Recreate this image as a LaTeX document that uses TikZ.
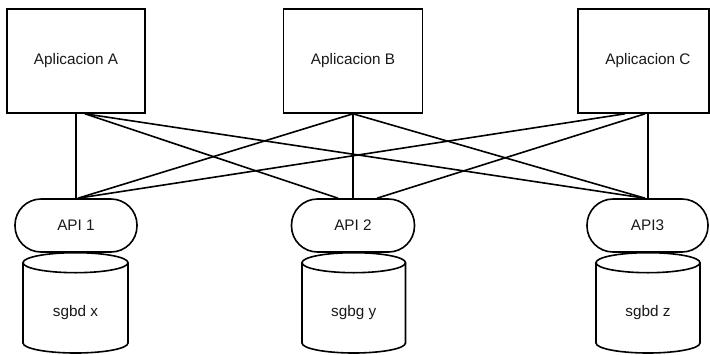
\documentclass[tikz,border=0pt]{standalone}
\usepackage{fontspec}
\setmainfont{Liberation Sans}
\usetikzlibrary{calc}
\begin{document}
\begin{tikzpicture}[x=1pt,y=-1pt,
  every node/.style={font=\fontsize{15.3pt}{18pt}\selectfont, text=black!90},
  appbox/.style={draw, line width=1.6pt, minimum height=104pt, inner sep=0pt},
  apibox/.style={draw, line width=1.6pt, rounded corners=26pt, minimum height=53pt, inner sep=0pt},
  conn/.style={line width=1.6pt},
  cyl/.style={line width=1.6pt}]
\useasboundingbox (0,0) rectangle (710,354);
\fill[white] (0,0) rectangle (710,354);
% applications
\node[appbox, minimum width=138pt] (A) at (76,61) {Aplicacion A};
\node[appbox, minimum width=139pt] (B) at (353,61) {Aplicacion B};
\node[appbox, minimum width=131pt] (C) at (643.5,61) {};
\node at (648,61) {Aplicacion C};
% APIs
\node[apibox, minimum width=122pt] (P1) at (76,225.5) {API 1};
\node[apibox, minimum width=123pt] (P2) at (353,225.5) {API 2};
\node[apibox, minimum width=121pt] (P3) at (647.5,225.5) {API3};
% databases
\draw[cyl] (23,262.7) -- (23,343) arc[start angle=180,end angle=360,x radius=52.5pt,y radius=10pt] -- (128,262.7);
\draw[cyl] (75.5,262.7) ellipse [x radius=52.5pt, y radius=10pt];
\draw[cyl] (302,262.7) -- (302,343) arc[start angle=180,end angle=360,x radius=51.75pt,y radius=10pt] -- (405.5,262.7);
\draw[cyl] (353.75,262.7) ellipse [x radius=51.75pt, y radius=10pt];
\draw[cyl] (596,262.7) -- (596,343) arc[start angle=180,end angle=360,x radius=52pt,y radius=10pt] -- (700,262.7);
\draw[cyl] (648,262.7) ellipse [x radius=52pt, y radius=10pt];
\node (X) at (75.5,313) {sgbd x};
\node (Y) at (353.75,313) {sgbg y};
\node (Z) at (648,313) {sgbd z};
% connectors
\coordinate (As) at ($(A.south)+(9,0)$);
\coordinate (Cs1) at ($(C.south)+(-18.5,0)$);
\coordinate (Cs2) at ($(C.south)+(1.5,0)$);
\coordinate (Cs3) at ($(C.south)+(4.5,0)$);
\coordinate (P1n) at ($(P1.north)+(2,0)$);
\coordinate (P2l) at ($(P2.north)+(-15,0)$);
\coordinate (P2r) at ($(P2.north)+(24,0)$);
\coordinate (P3l) at ($(P3.north)+(-2.5,0)$);
\coordinate (P3n) at ($(P3.north)+(0.5,0)$);
\draw[conn] (A.south) -- (P1.north);
\draw[conn] (As) -- (P2l);
\draw[conn] (As) -- (P3l);
\draw[conn] (B.south) -- (P1n);
\draw[conn] (B.south) -- (P2.north);
\draw[conn] (B.south) -- (P3l);
\draw[conn] (Cs1) -- (P1n);
\draw[conn] (Cs2) -- (P2r);
\draw[conn] (Cs3) -- (P3n);
\end{tikzpicture}
\end{document}
